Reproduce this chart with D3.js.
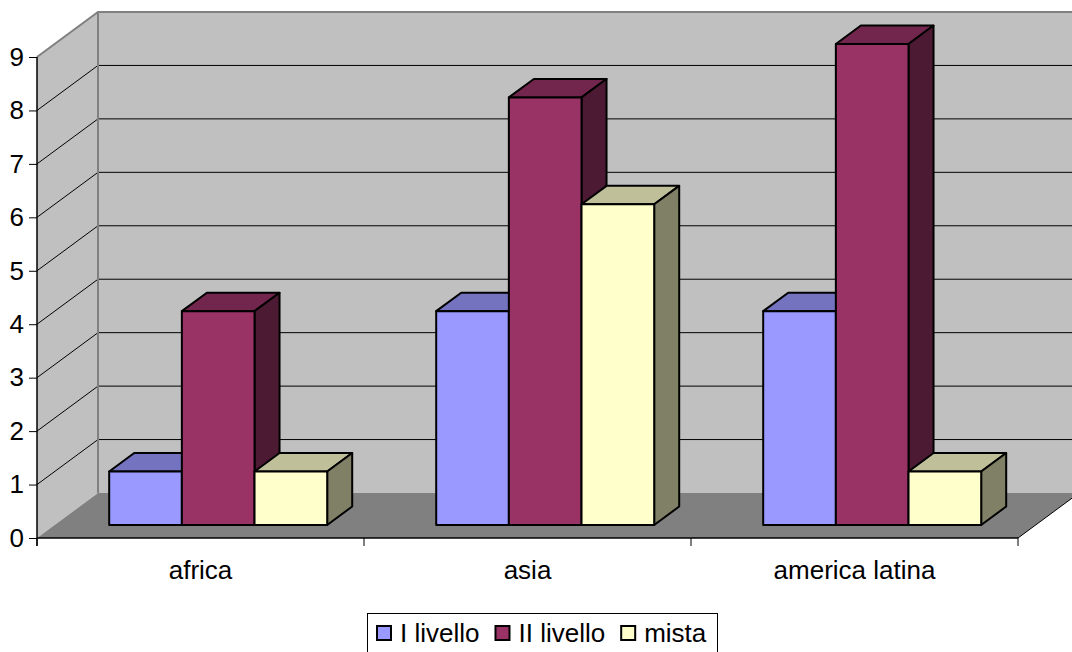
<!DOCTYPE html>
<html>
<head>
<meta charset="utf-8">
<script src="https://cdn.jsdelivr.net/npm/d3@7"></script>
<style>
  html, body { margin: 0; padding: 0; background: #fff; }
  svg { display: block; }
  text { font-family: "Liberation Sans", Arial, sans-serif; fill: #000; }
</style>
</head>
<body>
<svg id="chart" width="1072" height="652"></svg>
<script>
// Data
const categories = ["africa", "asia", "america latina"];
const seriesNames = ["I livello", "II livello", "mista"];
const seriesValues = [
  [1, 4, 4],   // I livello
  [4, 8, 9],   // II livello
  [1, 6, 1]    // mista
];
const yTicks = [0, 1, 2, 3, 4, 5, 6, 7, 8, 9];

// Colours: front, top, side for each series
const faceColors = [
  { front: "#9999FF", top: "#7373BF", side: "#4D4D80" },
  { front: "#993366", top: "#73264D", side: "#4D1A33" },
  { front: "#FFFFCC", top: "#BFBF99", side: "#808066" }
];

const FONT_SIZE = 26;
const svg = d3.select("#chart");

// Front plane of the 3D box and depth vector
const plotLeft = 37, plotRight = 1018;
const DX = 61, DY = 45;            // full depth offset (right, up)
const barD0 = 0.29, barD1 = 0.70;  // bar depth range as fraction of full depth

const y = d3.scaleLinear().domain([0, 9]).range([538, 57]);
const x = d3.scaleBand().domain(categories).range([plotLeft, plotRight]).paddingInner(0).paddingOuter(0);

const proj = (px, py, d) => [px + d * DX, py - d * DY];
const poly = pts => pts.map(p => p.join(",")).join(" ");

// ---- Walls and floor ----
const backLeft = plotLeft + DX, backTop = y(9) - DY, backBottom = y(0) - DY;
// back wall
svg.append("polygon")
  .attr("points", poly([[backLeft, backTop], [1100, backTop], [1100, backBottom], [backLeft, backBottom]]))
  .attr("fill", "#C0C0C0");
// side wall
svg.append("polygon")
  .attr("points", poly([[plotLeft, y(9)], [backLeft, backTop], [backLeft, backBottom], [plotLeft, y(0)]]))
  .attr("fill", "#C0C0C0");
// floor
svg.append("polygon")
  .attr("points", poly([[plotLeft, y(0)], [plotRight, y(0)], proj(plotRight, y(0), 1), [backLeft, backBottom]]))
  .attr("fill", "#808080");

// gridlines on back and side walls
const grid = svg.append("g");
yTicks.filter(v => v > 0 && v < 9).forEach(v => {
  grid.append("line")
    .attr("x1", backLeft).attr("x2", 1100)
    .attr("y1", y(v) - DY).attr("y2", y(v) - DY)
    .attr("stroke", "#000").attr("stroke-width", 1);
  grid.append("line")
    .attr("x1", plotLeft).attr("y1", y(v))
    .attr("x2", backLeft).attr("y2", y(v) - DY)
    .attr("stroke", "#000").attr("stroke-width", 1);
});
// wall borders
svg.append("polyline")
  .attr("points", poly([[plotLeft, y(9)], [backLeft, backTop], [1100, backTop]]))
  .attr("fill", "none").attr("stroke", "#808080").attr("stroke-width", 2);
svg.append("line")
  .attr("x1", backLeft).attr("x2", backLeft)
  .attr("y1", backTop).attr("y2", backBottom)
  .attr("stroke", "#808080").attr("stroke-width", 2);
// floor right edge
const fr = proj(plotRight, y(0), 1);
svg.append("line")
  .attr("x1", plotRight).attr("y1", y(0)).attr("x2", fr[0]).attr("y2", fr[1])
  .attr("stroke", "#000").attr("stroke-width", 1);

// ---- Bars ----
const groupW = x.bandwidth() / 1.5;
const inner = d3.scaleBand().domain(d3.range(seriesNames.length)).range([0, groupW]);
const dd = barD1 - barD0;

const barsG = svg.append("g")
  .attr("stroke", "#000").attr("stroke-width", 2).attr("stroke-linejoin", "round");

categories.forEach((cat, ci) => {
  const gx = x(cat) + (x.bandwidth() - groupW) / 2;
  seriesNames.forEach((s, si) => {
    const v = seriesValues[si][ci];
    const xa = gx + inner(si), xb = xa + inner.bandwidth();
    const [fxa, fyt] = proj(xa, y(v), barD0);
    const [fxb, fyb] = proj(xb, y(0), barD0);
    const ox = dd * DX, oy = -dd * DY;
    const c = faceColors[si];
    // top face
    barsG.append("polygon")
      .attr("points", poly([[fxa, fyt], [fxb, fyt], [fxb + ox, fyt + oy], [fxa + ox, fyt + oy]]))
      .attr("fill", c.top);
    // side face
    barsG.append("polygon")
      .attr("points", poly([[fxb, fyt], [fxb + ox, fyt + oy], [fxb + ox, fyb + oy], [fxb, fyb]]))
      .attr("fill", c.side);
    // front face
    barsG.append("rect")
      .attr("x", fxa).attr("y", fyt)
      .attr("width", fxb - fxa).attr("height", fyb - fyt)
      .attr("fill", c.front);
  });
});

// ---- Axes ----
const yAxis = d3.axisLeft(y).tickValues(yTicks).tickSize(8).tickPadding(5).tickFormat(d3.format("d"));
const yAxisG = svg.append("g").attr("transform", `translate(${plotLeft},0)`).call(yAxis);
yAxisG.select(".domain").attr("d", `M0,${y(9)}V${y(0) + 8}`).attr("stroke", "#000").attr("stroke-width", 1.5);
yAxisG.selectAll(".tick line").attr("stroke", "#000");
yAxisG.selectAll("text").attr("font-size", FONT_SIZE).attr("font-family", "Liberation Sans, Arial, sans-serif");

// category axis: line, boundary ticks, labels
const xAxisG = svg.append("g");
xAxisG.append("line")
  .attr("x1", plotLeft).attr("x2", plotRight)
  .attr("y1", y(0)).attr("y2", y(0))
  .attr("stroke", "#000").attr("stroke-width", 1.5);
const bounds = categories.map(c => x(c)).concat([plotRight]);
xAxisG.selectAll("line.tk").data(bounds).join("line").attr("class", "tk")
  .attr("x1", d => d).attr("x2", d => d)
  .attr("y1", y(0)).attr("y2", y(0) + 8)
  .attr("stroke", "#000").attr("stroke-width", 1);
xAxisG.selectAll("text").data(categories).join("text")
  .attr("x", d => x(d) + x.bandwidth() / 2)
  .attr("y", 579)
  .attr("text-anchor", "middle")
  .attr("font-size", FONT_SIZE)
  .text(d => d);

// ---- Legend ----
const legend = svg.append("g");
legend.append("rect")
  .attr("x", 367.5).attr("y", 613.5).attr("width", 350).attr("height", 60)
  .attr("fill", "#fff").attr("stroke", "#000").attr("stroke-width", 1);
let lx = 377;
seriesNames.forEach((s, i) => {
  legend.append("rect")
    .attr("x", lx).attr("y", 626).attr("width", 14).attr("height", 14)
    .attr("fill", faceColors[i].front).attr("stroke", "#000").attr("stroke-width", 2);
  const t = legend.append("text")
    .attr("x", lx + 23).attr("y", 642)
    .attr("font-size", FONT_SIZE)
    .text(s);
  lx = lx + 23 + t.node().getComputedTextLength() + 16;
});
</script>
</body>
</html>
